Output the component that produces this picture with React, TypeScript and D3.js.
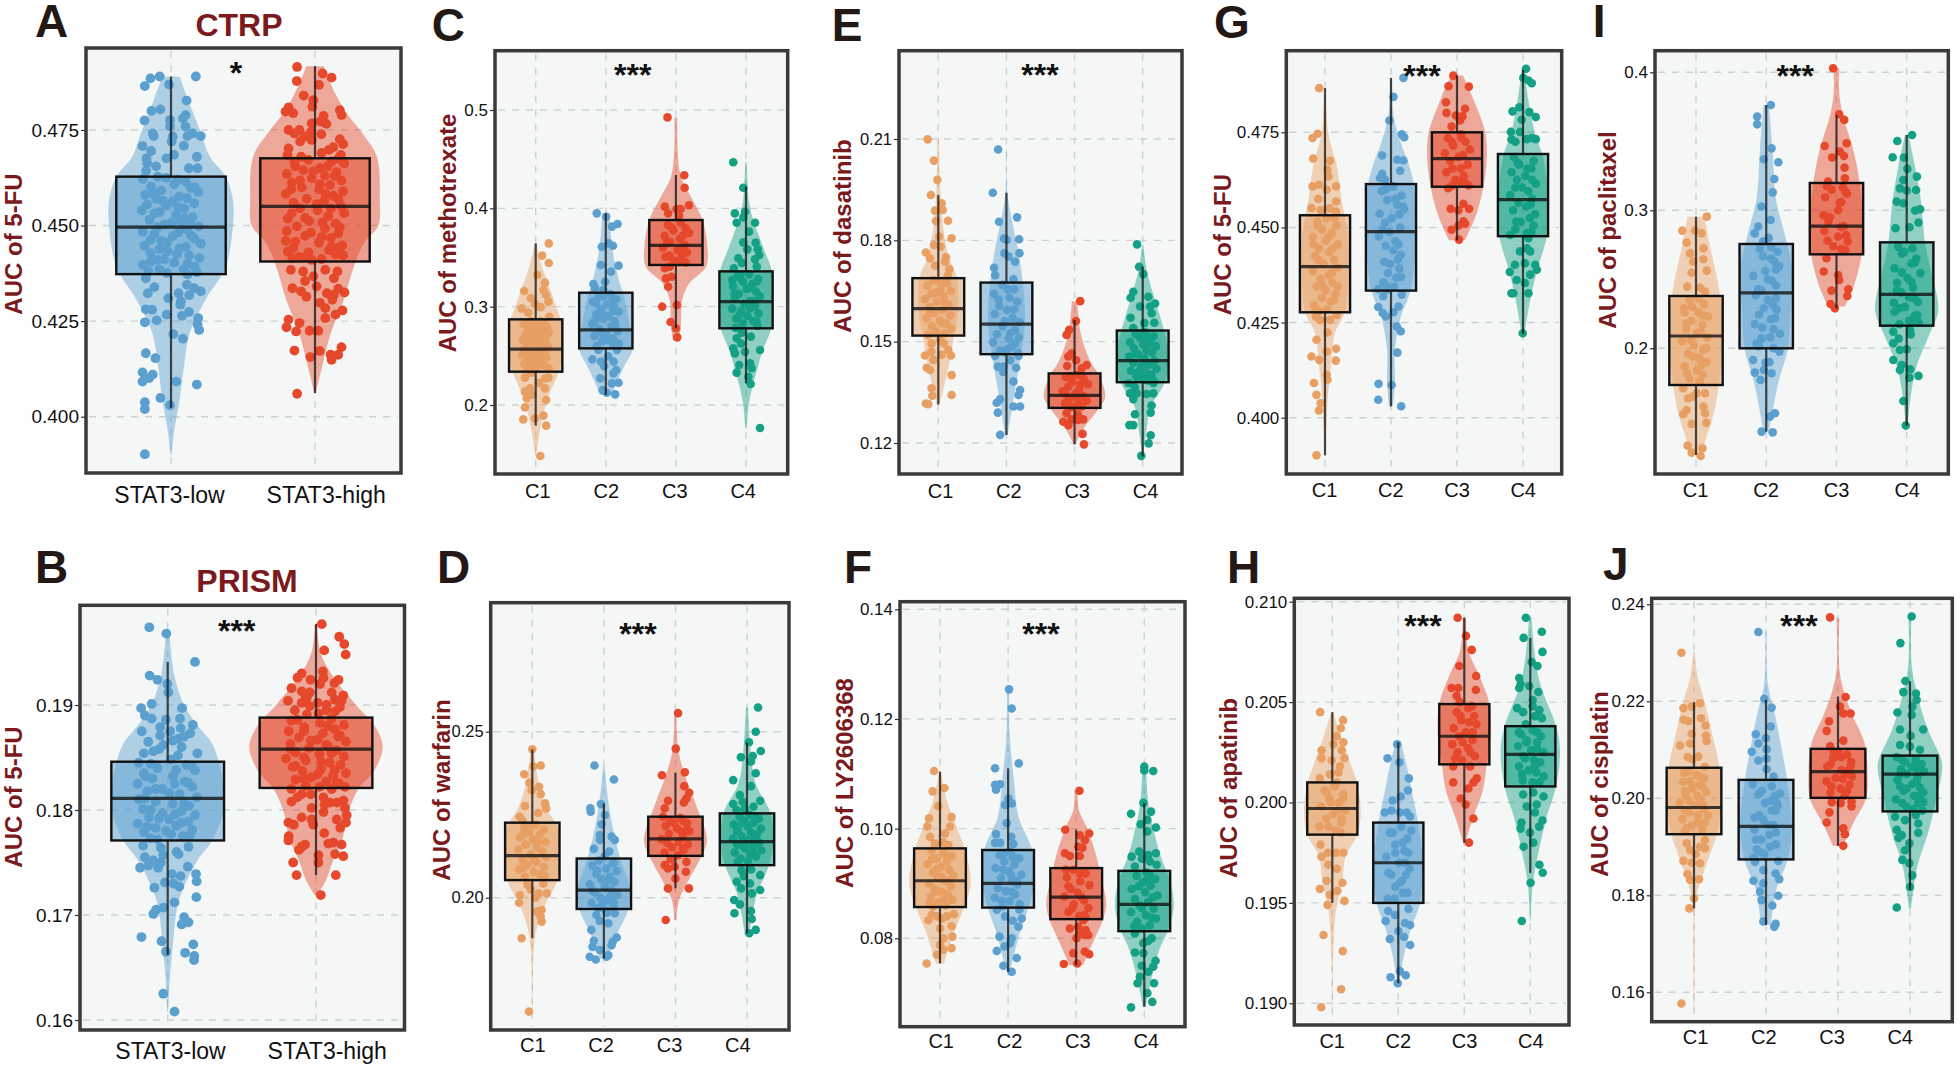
// App.tsx - drug sensitivity violin / box / jitter panels
import React, { useEffect, useRef } from 'react';
import * as d3 from 'd3';

const clusterLabels = ['C1', 'C2', 'C3', 'C4'];
const stat3Labels = ['STAT3-low', 'STAT3-high'];

const clusterColors = ['#E89F63', '#5B9FCF', '#E5482B', '#13A084'];
const stat3Colors = ['#5B9FCF', '#E5482B'];

// box arrays: whisker low, q1, median, q3, whisker high
// violin arrays: value, half width (% of category step) pairs
// point arrays: value, jitter (% of jitter band) pairs

const boxALow = [.4023, .4373, .4496, .4628, .489];
const boxAHigh = [.4062, .4406, .455, .4676, .4917];
const violinALow = [.489, 6, .4828, 12, .4741, 21, .468, 27, .4628, 38, .4567, 43, .45, 43, .4393, 38, .4306, 24, .4219, 13, .4132, 9, .4044, 6, .3957, 2, .3901, .5];
const violinAHigh = [.4917, 6, .4846, 14, .4794, 22, .4741, 33, .468, 43, .4567, 45, .45, 44, .4454, 34, .4393, 27, .4306, 20, .4219, 11, .4132, 5, .4062, .5];
const pointsALow = [.4865, -79, .4885, -62, .489, -34, .489, 75, .4869, -6, .4827, 47, .48, -59, .4804, -32, .4775, -80, .4789, 44, .478, 36, .4776, -3, .476, -3, .4759, 44, .4741, -55, .4734, -52, .4734, 90, .4741, 65, .4734, 50, .4733, 5, .472, 2, .4708, -86, .4709, 39, .4685, 9, .4676, -14, .468, 78, .4676, -74, .4663, -72, .465, 80, .465, 54, .4643, -75, .4628, -40,
  .4622, -85, .4615, 45, .4608, 10, .4602, -60, .4598, 60, .4592, -30, .4588, 82, .458, -78, .4576, 25, .457, -45, .4563, 5, .4558, 70, .4552, -15, .4545, 40, .454, -88, .4535, -35, .4528, 15, .4522, 65, .4515, -65, .451, 30, .4503, -20, .4498, 84, .449, 48, .4484, -85, .4478, -50, .4472, 5, .4466, 70, .446, -30, .4453, 90, .4447, -80, .444, 25, .4433, -10, .4428, -62, .4422, 55, .4415, 86, .441, -40, .4403, 10, .4397, -85, .4392, 72, .4386, 38, .438, -68, .4376, -12, .4372, 50,
  .4362, -76, .4339, -50, .4323, -70, .4323, 23, .4336, 70, .4328, 90, .431, -8, .4293, 28, .4281, -76, .428, -57, .4274, 54, .4267, -13, .4264, 33, .4247, -79, .4252, -43, .4258, 82, .4241, 80, .4227, 85, .4216, 7, .4204, 36, .4166, -76, .4153, -47, .4116, -86, .411, -55, .4101, -66, .4092, -86, .4092, 16, .4084, 78, .4049, -32, .4038, -79, .402, -79, .403, -3, .3902, -79];
const pointsAHigh = [.4915, -54, .4878, -55, .4898, 23, .4887, 50, .4868, 12, .484, -34, .4828, -5, .4811, -8, .4809, -80, .4798, -89, .4794, -66, .4802, 75, .4789, 80, .4787, 26, .4772, 16, .4766, 34, .475, -80, .475, -47, .4767, -10, .4741, -62, .4733, -31, .4739, 19, .4726, 75, .4713, 85, .4724, -10, .4702, -80, .4698, 42, .4685, -83, .468, -42, .4685, 78,
  .4672, -20, .4668, 50, .4662, 88, .4655, -60, .465, 15, .4645, -35, .464, 65, .4635, -85, .463, 30, .4624, -10, .4618, 80, .4612, -70, .4606, 45, .46, -40, .4595, 12, .459, 85, .4583, -88, .4578, 55, .457, -25, .4565, 28, .456, -65, .4552, 78, .4545, -45, .454, 8, .4533, 88, .4525, 40, .4518, -82, .4512, -18, .4505, 62, .4498, -55, .4492, 30, .4486, -85, .448, 70, .4473, -30, .4468, 48, .446, -88, .4455, 12, .4448, 82, .4442, -65, .4436, 42, .443, -20, .4425, 62, .4418, -48, .4412, 20,
  .4415, -68, .4419, -26, .4443, 73, .4384, -73, .438, -36, .4367, -5, .4384, 31, .438, 68, .4362, 57, .4336, -68, .4328, -42, .4341, 5, .4314, -26, .4323, 36, .4325, 89, .4319, 57, .4306, 52, .4284, 31, .4278, 83, .4267, 62, .4258, 31, .4254, -80, .4245, -47, .4234, -86, .4223, -57, .4225, -16, .4225, 10, .4173, -62, .4172, 14, .4182, 80, .4156, -14, .4162, 47, .4162, 70, .4149, 50, .406, -54];

const boxBLow = [.1662, .1771, .1811, .1846, .1941];
const boxBHigh = [.1738, .1821, .1858, .1888, .1977];
const violinBLow = [.1972, 1, .1928, 4.5, .19, 11, .1879, 21, .1863, 30, .1837, 36, .1812, 38, .18, 38, .1771, 30, .1752, 20, .172, 9, .1704, 6, .1672, 3.5, .1641, 1.5, .1608, .3];
const violinBHigh = [.1977, .7, .195, 3, .1928, 11, .19, 27, .1879, 40, .186, 45, .1837, 39, .1821, 29, .1799, 22, .1773, 18, .175, 11, .1734, 7, .1719, 1];
const pointsBLow = [.1974, -54, .1968, -4, .1941, 80, .1928, -53, .1924, -30, .192, -1, .1912, 2, .1901, -47, .1897, -78, .1897, 42, .189, -67, .1887, -47, .1886, -5, .1887, 36, .1881, 74, .1879, -22, .1875, -76, .1878, 38, .1873, 66, .1875, 7, .1871, -22, .1865, -57, .1868, 31, .1862, -13, .186, 41, .1856, -42, .1854, -70, .1854, 87,
  .1848, 10, .1845, -85, .1843, 55, .184, -30, .1838, 80, .1835, -70, .1832, 15, .183, -45, .1827, 50, .1825, -88, .1822, 72, .182, -15, .1818, -60, .1815, 35, .1812, 85, .181, -85, .1808, -35, .1806, 15, .1804, 62, .1801, -72, .1799, 40, .1797, -15, .1795, 80, .1793, -55, .1791, 5, .1789, 60, .1787, -88, .1785, 25, .1783, -35, .1781, 72, .1779, -70, .1777, 10, .1775, 45, .1773, -50,
  .1766, -72, .1765, 61, .176, 26, .1757, -13, .1755, -67, .1752, -42, .1745, -81, .1747, -57, .1745, -28, .1746, 59, .1739, 83, .1739, 12, .1737, 38, .1732, 85, .1731, -8, .173, 17, .1727, 34, .1726, -39, .1717, 84, .1712, 20, .1707, -13, .1705, -34, .1701, -42, .1698, 48, .1693, 61, .1691, 41, .1679, -77, .1675, -18, .1672, 75, .1665, -5, .1664, 51, .1661, 78, .1657, 77, .1625, -13, .1608, 20];
const pointsBHigh = [.1977, 17, .1965, 68, .1958, 83, .1952, 24, .1948, 87, .1932, 20, .193, -42, .1926, -54, .1926, 22, .1924, 66, .1924, -16, .192, 12, .1921, 54, .1916, -72, .1913, -42, .1912, -18, .1912, 46, .1909, 80, .1907, -27, .1904, -82, .1904, 75, .1902, -42, .1899, -18, .19, 31, .1895, -62, .1894, 56, .1892, 7, .1891, -27,
  .1887, 45, .1885, -72, .1883, 12, .1881, 82, .1879, -35, .1877, 55, .1875, -80, .1873, 20, .1871, 70, .1869, -50, .1867, 5, .1865, 88, .1863, -75, .1861, 35, .1859, -20, .1857, 60, .1855, -60, .1853, 10, .1851, 82, .1849, -88, .1847, -30, .1845, 40, .1843, 72, .1841, -68, .1839, 15, .1837, -40, .1835, 88, .1833, 50, .1831, -15, .1829, -60, .1827, 30, .1825, 68, .1823, -30,
  .182, -72, .1815, -42, .182, 46, .1812, 22, .1808, -72, .1809, 80, .1807, 41, .1807, 61, .1802, -13, .1802, 85, .1798, 22, .1795, 90, .1793, -42, .1791, -13, .1791, 61, .1788, 88, .1788, -81, .1786, -65, .1783, 71, .1786, -8, .1778, 24, .1775, -80, .1771, -81, .1768, 36, .1769, 51, .1767, 75, .1767, -32, .1765, -42, .1762, -50, .1758, 56, .1756, 80, .1757, 7, .175, 7, .175, -67, .1738, -57, .1738, 58, .1719, 14];

const boxC1 = [.179, .2339, .2569, .2871, .3644];
const boxC2 = [.2102, .2576, .2763, .3142, .3949];
const boxC3 = [.278, .3424, .3624, .3881, .4339];
const boxC4 = [.222, .278, .3051, .3359, .422];
const violinC1 = [.3644, 1, .3407, 9, .3169, 21, .3, 29, .2864, 36, .2559, 38, .2339, 33, .2068, 17, .178, 7, .1576, 2.5, .1481, .5];
const violinC2 = [.3949, 5, .3746, 7, .3475, 12, .3237, 20, .3068, 27, .2729, 36, .2559, 38, .239, 26, .222, 15, .2102, 9];
const violinC3 = [.4925, 2, .4593, 2.5, .4322, 7, .4085, 24, .3881, 38, .361, 45, .3407, 43, .3237, 19, .3068, 9, .2797, 7, .2661, 4];
const violinC4 = [.4468, 1, .4085, 4, .3915, 9, .3576, 26, .3359, 37, .3068, 38, .278, 36, .2559, 24, .239, 17, .2051, 5, .1763, 1];
const pointsC1 = [.3644, 81, .3519, 40, .3444, 81, .3322, 10, .3244, 58, .3159, -71, .3169, 48, .3119, 65, .3051, 79, .3027, -4, .2983, -87, .2939, -46, .2898, 85,
  .2855, -30, .284, 45, .2825, -75, .281, 15, .2795, 70, .278, -45, .2765, -10, .275, 40, .2735, 82, .272, -62, .2705, 20, .269, -25, .2675, 60, .266, -80, .2645, 5, .263, 35, .2615, -50, .26, 78, .2585, -15, .257, -70, .2555, 25, .254, 55, .2525, -35, .251, -85, .2495, 10, .248, 68, .2465, -55, .245, 30, .2435, -20, .242, -72, .2405, 48, .239, 5, .2375, 80, .236, -40,
  .2278, -67, .2271, 58, .2278, 79, .2169, -35, .2136, -67, .2169, 58, .2068, -56, .2051, 65, .1976, -67, .1864, -4, .1854, -77, .1892, 48, .179, 65, .1481, 29];
const pointsC2 = [.3949, -56, .3915, 2, .3841, 73, .3814, 38, .361, -25, .362, 44, .3644, 17, .3417, 79, .3424, -31, .3356, 33, .3231, -77, .3254, -4, .3186, -67, .3169, -15,
  .3125, 30, .31, -45, .3075, 65, .305, -80, .3025, 10, .3, 50, .2975, -30, .295, 80, .2925, -60, .29, 20, .2875, -15, .285, 55, .2825, -85, .28, 35, .2775, -40, .275, 72, .2725, 5, .27, -70, .2675, 45, .265, -20, .2625, 80, .26, -55,
  .2464, -83, .2441, -29, .2441, 48, .2356, 65, .2271, -35, .2322, 48, .2227, 79, .222, 38, .2153, -19, .2108, 58, .2125, 6, .2559, -46, .2559, 69];
const pointsC3 = [.4925, -52, .4336, 52, .421, 54, .4031, 81, .4017, -69, .399, 4, .3993, 29, .3949, -48, .3, -85, .3017, 6, .2844, -33, .278, 0, .2688, 8, .3203, -48, .3288, -62, .3305, -27, .339, -69, .3407, -38,
  .3855, 30, .383, -50, .38, 60, .3775, -15, .375, 82, .372, -70, .369, 25, .366, -35, .363, 55, .36, -80, .3575, 10, .355, 70, .352, -40, .3495, 35, .347, -15, .345, 60];
const pointsC4 = [.4468, -79, .421, -17, .3949, -69, .3966, -6, .3908, -17, .3854, 56, .3854, -58, .3763, 19, .3654, -17, .3651, 60, .3583, 73, .3583, 8, .3525, 83, .3492, -48, .3481, 56, .3407, 67, .339, -75,
  .333, 20, .3305, -55, .328, 75, .3255, -20, .323, 40, .3205, -80, .318, 5, .3155, 62, .313, -45, .3105, 85, .308, -70, .3055, 25, .303, -10, .3005, 55, .298, -85, .2955, -30, .293, 78, .2905, 10, .288, -60, .2855, 45, .283, -20, .2805, 70,
  .2736, -27, .2678, -58, .2576, -79, .2525, -69, .2542, -6, .2559, 87, .2407, -42, .2424, 25, .2373, 35, .2329, -58, .2288, 15, .2214, 29, .1766, 87];

const boxD1 = [.1878, .2053, .2127, .2226, .2447];
const boxD2 = [.1817, .1966, .2023, .2118, .2284];
const boxD3 = [.2028, .2126, .2177, .2244, .2377];
const boxD4 = [.1893, .2098, .2169, .2254, .2467];
const violinD1 = [.2455, 2, .2344, 9, .2264, 21, .2214, 35, .2134, 37, .2053, 35, .1983, 19, .1913, 7, .1842, 2, .1657, .5];
const violinD2 = [.2395, 1, .2294, 6, .2194, 14, .2118, 23, .2023, 37, .1963, 34, .1893, 19, .1817, 5];
const violinD3 = [.2555, 1.5, .2445, 4, .2364, 14, .2284, 28, .2174, 44, .2124, 36, .2043, 16, .1993, 5, .1933, 1.5];
const violinD4 = [.2573, 1.5, .2445, 5, .2344, 12, .2254, 33, .2164, 37, .2093, 30, .2013, 14, .1943, 7, .1888, 3];
const pointsD1 = [.2447, 0, .2398, 51, .2395, 6, .2372, -49, .2346, -18, .2334, 41, .2324, -4, .2312, 51, .2284, 78, .2276, -45, .2269, 84, .2244, -76,
  .222, 20, .2212, -50, .2205, 70, .2198, -20, .219, 45, .2182, -75, .2175, 5, .2168, 80, .216, -40, .2152, 30, .2145, -85, .2138, 60, .213, -10, .2122, 85, .2115, -60, .2108, 25, .21, -30, .2092, 70, .2085, -80, .2078, 10, .207, 50, .2062, -45,
  .2043, 67, .2008, -76, .2013, 37, .1985, -80, .1963, 57, .1958, 27, .1943, 51, .1928, 57, .1878, -65, .1657, -20, .2013, 88];
const pointsD2 = [.2398, -57, .2356, 61, .2282, -18, .2269, -82, .2259, -80, .2249, 6, .2221, -14, .2184, 47, .2174, 67, .2189, -24, .2174, -24, .2147, -61, .2139, 33,
  .2112, -30, .2104, 55, .2096, -70, .2088, 15, .208, 78, .2072, -45, .2064, 35, .2056, -15, .2048, 65, .204, -85, .2032, 5, .2024, 45, .2016, -55, .2008, 80, .2, -20, .1992, 25, .1984, -75, .1976, 60, .1968, -35, .1962, 10,
  .1948, -45, .1923, 27, .1903, -76, .188, 78, .187, -61, .1867, 53, .1852, -69, .1857, 47, .1842, -24, .1827, 27, .1822, -86, .1814, -49, .1822, 16, .1953, 67];
const pointsD3 = [.2556, 16, .2449, 2, .2378, 57, .2369, -82, .2336, 53, .2316, 84, .2299, 67, .2292, -45, .2287, 51, .2269, -65, .2244, -76,
  .224, 30, .2232, -30, .2224, 70, .2216, -60, .2208, 10, .22, 85, .2192, -40, .2184, 45, .2176, -85, .2168, 20, .216, 75, .2152, -20, .2144, 50, .2136, -65,
  .2098, -65, .2108, 67, .2093, -4, .2088, -45, .2078, 63, .2058, 0, .2028, -45, .2028, 82, .1933, -59];
const pointsD4 = [.2573, 67, .25, 53, .2468, 12, .2442, 84, .2423, -37, .2427, 35, .241, 24, .2375, 53, .2354, -84, .2336, 24, .2309, -43, .2289, -27, .2292, 80, .2282, -84, .2264, -63, .2274, 39,
  .225, 15, .2244, -45, .2238, 72, .2232, -15, .2226, 40, .222, -80, .2214, 5, .2208, 85, .2202, -55, .2196, 25, .219, 60, .2184, -30, .2178, -85, .2172, 10, .2166, 75, .216, -60, .2154, 40, .2148, -10, .2142, 88, .2136, -75, .213, 20, .2124, 55, .2118, -40, .2112, 5,
  .2083, -33, .2068, 80, .2048, -63, .2043, 18, .2023, 80, .2013, 29, .1993, -78, .198, -43, .196, 24, .1953, -76, .1936, 29, .1903, 53, .1893, 14];

const boxE1 = [.1314, .1518, .1598, .1688, .1934];
const boxE2 = [.1224, .1463, .1552, .1675, .1941];
const boxE3 = [.1196, .1304, .1341, .1406, .1564];
const boxE4 = [.116, .138, .1444, .1533, .1722];
const violinE1 = [.21, 1, .1969, 2.5, .184, 7, .1752, 15, .1692, 27, .1594, 29, .1505, 22, .1426, 15, .1314, 2];
const violinE2 = [.207, .5, .1939, 1.5, .184, 10, .1771, 17, .1675, 24, .1554, 27, .1446, 20, .1327, 10, .1224, 2];
const violinE3 = [.162, 4, .1525, 9, .1446, 22, .1396, 37, .1337, 45, .1298, 34, .1248, 15, .1196, 1];
const violinE4 = [.1786, 1, .1722, 5, .1643, 15, .1564, 27, .1485, 37, .1436, 39, .1377, 32, .1308, 12, .1229, 5, .116, .5];
const pointsE1 = [.2099, -68, .2036, -28, .1979, -6, .1934, -47, .191, 21, .189, 28, .1888, -21, .1857, -15, .1858, 62, .1806, 85, .1811, 6, .1786, -28, .1781, 15, .1764, -79, .1747, -53, .175, 49, .1714, 70, .1737, 43,
  .1682, -30, .1674, 55, .1666, -70, .1658, 15, .165, 80, .1642, -45, .1634, 35, .1626, -85, .1618, -10, .161, 65, .1602, -55, .1594, 25, .1586, -25, .1578, 75, .157, -75, .1562, 10, .1554, 50, .1546, -40, .1538, 85, .153, -15, .1524, 40, .152, -65,
  .1505, 11, .1495, -43, .1475, 64, .1459, -85, .1459, 81, .1461, 21, .1446, -32, .1423, -74, .1416, -53, .1401, 85, .1362, -43, .134, -38, .1342, 85, .1317, -79, .1315, -64];
const pointsE2 = [.2069, -53, .1941, -87, .1855, -47, .1868, 68, .1803, 81, .1805, -15, .1801, 2, .1762, 83, .1762, -13, .1752, 13, .1737, 55, .1719, -79, .1697, -72,
  .1668, -25, .1655, 50, .1642, -80, .163, 20, .1618, 70, .1606, -45, .1594, 5, .1582, -75, .157, 40, .1558, 85, .1546, -25, .1534, 55, .1522, -60, .151, 15, .1498, -85, .1486, 35, .1474, -40, .1466, 75, .1478, 5, .1512, 80,
  .1458, -72, .1458, 77, .1426, -55, .1426, -19, .1423, 62, .1382, 45, .1357, 87, .1342, 77, .133, -40, .1319, -62, .1308, 45, .1308, 87, .129, -55, .1224, -40];
const pointsE3 = [.162, 36, .1561, 9, .1535, -34, .152, -51, .1456, -40, .1465, -19, .1428, -47, .1431, 77, .1421, 45,
  .1402, 20, .1395, -55, .1388, 60, .1381, -15, .1374, 85, .1367, -40, .136, 30, .1353, -75, .1346, 5, .1339, 55, .1332, -30, .1325, 78, .1318, -60, .1311, 15, .1306, -20, .1308, 45,
  .1288, -51, .127, 55, .127, -19, .1263, -72, .1253, -40, .1227, 51, .1196, 60, .1268, 23];
const pointsE4 = [.1788, -36, .1722, -23, .17, 4, .1648, -60, .163, -77, .1633, 36, .1613, 79, .1604, -17, .1604, 47, .1584, 57, .1571, -77, .1556, 74, .154, -60,
  .1528, 15, .1522, -45, .1516, 70, .151, -15, .1504, 40, .1498, -80, .1492, 5, .1486, 85, .148, -55, .1474, 25, .1468, 60, .1462, -30, .1456, -85, .145, 10, .1444, 75, .1438, -60, .1432, 40, .1426, -10, .142, 88, .1414, -75, .1408, 20, .1402, 55, .1396, -40, .139, 5, .1384, 70,
  .1347, 68, .1347, -81, .1347, -38, .133, -60, .1311, 57, .129, 51, .1285, -49, .1253, -60, .1253, -85, .1223, 51, .1199, 38, .1162, -9, .1377, 68, .1377, -91];

const boxF1 = [.0754, .0857, .0905, .0964, .1104];
const boxF2 = [.0739, .0856, .09, .0961, .111];
const boxF3 = [.0751, .0835, .0875, .0928, .0998];
const boxF4 = [.0675, .0813, .0862, .0923, .1046];
const violinF1 = [.1104, 1, .1052, 10, .1004, 24, .0961, 37, .09, 45, .0852, 34, .0809, 20, .0754, 6];
const violinF2 = [.1253, 1.5, .1168, 2.5, .1083, 9, .1022, 15, .0961, 35, .09, 38, .0856, 30, .0809, 17, .0739, 2.5];
const violinF3 = [.1071, 2.5, .1034, 4, .1004, 15, .0961, 27, .09, 39, .0861, 44, .0833, 39, .0791, 24, .0751, 10];
const violinF4 = [.1116, 2.5, .1046, 6, .0991, 15, .0949, 24, .09, 39, .0855, 43, .0813, 34, .0779, 22, .0718, 9, .0675, 2];
const pointsF1 = [.1105, -38, .1074, 28, .1068, -47, .1041, -11, .1019, -70, .1021, 74, .1004, 64, .1004, -81, .0985, -64, .0991, 32, .0973, -32, .097, 53,
  .096, -55, .0955, 20, .095, 75, .0945, -25, .094, 45, .0935, -80, .093, 5, .0925, 60, .092, -45, .0915, 85, .091, -15, .0905, 30, .09, -70, .0895, 70, .089, -35, .0885, 10, .088, 50, .0875, -60, .087, 80, .0865, -10, .086, 35, .0858, -45,
  .0844, 89, .0843, -53, .084, 43, .0833, -74, .0822, 74, .0818, 0, .08, 21, .0803, 79, .0788, 0, .0782, 74, .0779, 21, .077, -21, .0754, -85, .0836, 11];
const pointsF2 = [.1254, 6, .1219, 23, .1119, 68, .111, -83, .108, -83, .1081, -51, .1071, -77, .1055, 2, .1043, -19, .1046, 23, .101, -9, .099, -77, .0974, -83, .0974, -51, .0972, 34,
  .0958, 15, .0952, -55, .0946, 70, .094, -25, .0934, 40, .0928, -80, .0922, 5, .0916, 85, .091, -45, .0904, 25, .0898, 60, .0892, -65, .0886, -15, .088, 45, .0874, -85, .0868, 10, .0862, 75, .0858, -35,
  .0852, -72, .0852, 72, .084, -19, .0836, 87, .0821, 66, .0803, -55, .08, 23, .0791, 13, .0785, -23, .0777, -72, .0764, 55, .075, -30, .0739, 23];
const pointsF3 = [.1069, 21, .0998, -70, .0991, 83, .0988, 23, .0979, 55, .0955, -72, .095, -40, .095, 23, .0967, 13,
  .0925, -20, .0918, 60, .0911, -60, .0904, 25, .0897, 85, .089, -35, .0883, 10, .0876, -75, .0869, 50, .0862, -15, .0855, 78, .0848, -50, .0841, 20, .0838, 60,
  .0833, 45, .0818, -40, .0821, 13, .0809, 23, .0806, 77, .0806, 55, .08, 2, .0776, 55, .0771, 83, .0773, -19, .0753, -79, .0754, 6];
const pointsF4 = [.1113, 0, .1106, 0, .1105, 57, .1047, -6, .1031, 43, .1027, -85, .1016, 19, .1008, -23, .1002, 74, .0995, 19, .0958, -32, .0955, 74, .0949, -81, .0952, 26, .0934, 79, .0931, -60, .094, 36,
  .092, 15, .0914, -50, .0908, 70, .0902, -10, .0896, 40, .089, -80, .0884, 5, .0878, 85, .0872, -60, .0866, 25, .086, -30, .0854, 60, .0848, -85, .0842, 10, .0836, 75, .083, -45, .0824, 35, .0818, -15,
  .0809, -60, .08, 47, .0791, -6, .0774, -60, .0773, -6, .0759, 72, .075, -17, .0748, 57, .0739, 26, .073, -28, .0718, -43, .0718, 62, .07, 19, .0684, 51, .0674, -85];

const boxG1 = [.3901, .4277, .4397, .4532, .4866];
const boxG2 = [.403, .4334, .4489, .4614, .4893];
const boxG3 = [.4466, .4607, .4681, .475, .4899];
const boxG4 = [.422, .4477, .4573, .4693, .4914];
const violinG1 = [.4866, 1, .4748, 5, .466, 18, .4573, 25, .4485, 34, .4397, 35, .4277, 30, .4222, 15, .4135, 9, .4047, 4, .3901, .5];
const violinG2 = [.4893, 1.5, .4792, 4, .4722, 15, .466, 28, .4608, 35, .4485, 38, .4336, 30, .4266, 15, .4178, 6, .4091, 6, .403, 3];
const violinG3 = [.4899, 9, .4836, 25, .4748, 43, .4678, 45, .4608, 40, .4538, 30, .4466, 12];
const violinG4 = [.4919, 1.5, .4836, 8, .4748, 18, .4687, 30, .4573, 38, .4477, 36, .4397, 23, .4327, 13, .422, 2];
const pointsG1 = [.4866, -38, .4746, -49, .4735, -82, .4681, -78, .4675, 33, .4652, 16, .4634, 22, .4608, -82, .4612, -38, .4608, 73, .4599, 11, .4575, -44, .4568, 73, .4551, -89, .4546, -29, .4542, 73,
  .4525, 10, .4515, -50, .4505, 75, .4495, -20, .4485, 45, .4475, -80, .4465, 5, .4455, 85, .4445, -40, .4435, 30, .4425, -65, .4415, 60, .4405, -10, .4395, 80, .4385, -80, .4375, 25, .4365, -30, .4355, 50, .4345, -55, .4335, 5, .4325, 70, .4315, -20, .4305, 40, .4295, -70, .4285, 15, .428, -40, .4345, 85, .4455, -75,
  .4257, -33, .4266, -60, .427, 78, .4257, 33, .4224, 16, .4205, -56, .4181, 73, .4174, 11, .4161, -89, .4152, -38, .415, 71, .4113, 11, .41, 16, .4091, -73, .406, -56, .4038, -29, .4019, -40, .3901, -56];
const pointsG2 = [.4893, 82, .4843, 16, .4781, -11, .4745, 71, .4737, 87, .4689, -58, .4678, 42, .4676, 82, .4649, 60, .4641, -58, .463, -73, .4625, -40,
  .4608, 15, .4596, -60, .4584, 70, .4572, -25, .456, 40, .4548, 85, .4536, -75, .4524, 5, .4512, -40, .45, 60, .4488, -10, .4476, -80, .4464, 30, .4452, -35, .444, 15, .4428, 65, .4416, 45, .4404, -5, .4392, 55, .438, -20, .4368, 35, .4356, -50, .4344, 20, .4338, -85, .4555, 80,
  .4319, -51, .4323, 71, .4291, -84, .4292, 49, .4266, -33, .4277, 16, .424, 38, .4227, 64, .4171, 42, .4089, -82, .4086, 4, .4047, -84, .403, 67, .4336, -29];
const pointsG3 = [.4899, -24, .4871, -56, .487, 78, .4829, -73, .4812, 53, .4801, -69, .4792, 36, .4794, -7, .4765, -36, .4781, 20,
  .4745, 25, .4735, -60, .4725, 55, .4715, -25, .4705, 85, .4695, -80, .4685, 10, .4675, -45, .4665, 70, .4655, 25, .4645, -70, .4635, 45, .4625, -10, .4615, 60, .461, -30,
  .4562, 42, .4549, -42, .4545, 9, .4549, 80, .4516, 42, .4494, -36, .451, 53, .4468, 13, .4603, -58, .461, 76];
const pointsG4 = [.4917, 20, .4893, 2, .4886, 36, .4879, 58, .4805, -69, .4816, -24, .4803, 42, .479, 84, .4783, -9, .4751, -80, .4751, -20, .4731, -76, .4732, 24, .4732, 84, .4735, 58,
  .4685, -60, .4675, 70, .4665, -25, .4655, 55, .4645, -75, .4635, 15, .4625, -40, .4615, 85, .4605, -5, .4595, 35, .4585, -85, .4575, 60, .4565, -30, .4555, 20, .4545, -65, .4535, 80, .4525, 45, .4515, -15, .4505, 70, .4495, -50, .4485, 25, .448, -85,
  .4472, 36, .4437, -20, .4437, 47, .4402, -53, .4406, 13, .4402, 80, .4383, -87, .4389, 91, .4362, -42, .4376, 47, .4354, 13, .4327, -64, .4327, 36, .4222, -2, .4327, -76];

const boxH1 = [.195, .1984, .1997, .201, .2045];
const boxH2 = [.191, .195, .197, .199, .203];
const boxH3 = [.198, .2019, .2033, .2049, .2092];
const boxH4 = [.1965, .2008, .2024, .2038, .2082];
const violinH1 = [.2045, 1.5, .2033, 13, .2019, 28, .2009, 38, .1995, 43, .1984, 38, .1973, 20, .196, 15, .1947, 6, .1926, 1.5, .1899, .5];
const violinH2 = [.203, 4, .2018, 13, .2006, 20, .199, 30, .197, 37, .195, 33, .1938, 20, .1923, 8, .191, 1.5];
const violinH3 = [.2092, 2.5, .2076, 6, .2063, 23, .2049, 38, .2033, 40, .2019, 34, .2006, 28, .1993, 14, .198, 1.5];
const violinH4 = [.2092, 2, .2076, 6, .2059, 15, .2038, 39, .2026, 45, .2008, 39, .1993, 25, .1976, 13, .196, 4, .1941, .5];
const pointsH1 = [.2045, -80, .2041, 71, .2037, 56, .2033, 29, .203, 73, .2029, 7, .2026, -71, .2026, 62, .2022, 80, .2022, -71, .2021, -4, .2012, -82, .2014, -16, .2015, 40,
  .2008, 15, .2006, -50, .2004, 70, .2002, -20, .2, 45, .1998, -75, .1996, 85, .1994, 5, .1992, -40, .199, 60, .1988, -85, .1986, 25,
  .1979, -78, .1973, -71, .1975, 24, .1975, 73, .1969, -27, .1967, 29, .1961, -38, .196, 67, .1957, -82, .1956, 33, .1954, -16, .1951, 80, .1949, -31, .1934, -58, .1926, 69, .1907, 58, .1898, -73];
const pointsH2 = [.2029, -7, .2022, -71, .202, 7, .2012, 69, .2006, 64, .2003, 16, .2001, -38, .1995, -89, .1996, -44, .1995, 56, .1993, 78,
  .1988, 20, .1985, -55, .1982, 60, .1979, -20, .1976, 40, .1973, -80, .197, 5, .1967, 75, .1964, -45, .1961, 25, .1958, -20, .1955, 60, .1952, -70, .1986, 85, .1964, 50,
  .1946, -67, .1947, 67, .1941, -84, .1944, -22, .1939, 78, .194, 44, .1936, 0, .1932, -56, .1933, 38, .1929, 78, .1916, 11, .1913, -51, .1914, 49, .191, -4];
const pointsH3 = [.2092, -44, .2083, 11, .2076, 49, .2068, -33, .2063, 78, .2057, -84, .2057, -40, .2056, 76, .2053, -51,
  .2047, 25, .2045, -50, .2043, 65, .2041, -20, .2039, 80, .2037, -70, .2035, 10, .2033, -35, .2031, 55, .2029, -80, .2027, 25, .2025, -45, .2023, 70, .2021, -15,
  .2018, -73, .2018, 38, .201, -73, .2012, 82, .201, 60, .2007, 27, .2002, -24, .1999, 9, .1992, 60, .198, 31];
const pointsH4 = [.2092, -29, .2085, 76, .2082, -44, .2075, 80, .207, 9, .2068, 47, .2062, -73, .2059, -64, .2058, -7, .2057, -73, .2055, 53, .2051, 16, .2047, -87, .2045, -47, .2046, 60, .2043, 31, .2042, 76, .2039, -29,
  .2036, 15, .2034, -60, .2033, 70, .2031, -25, .203, 45, .2028, -80, .2026, 5, .2025, 85, .2023, -45, .2021, 25, .202, 65, .2018, -75, .2016, -10, .2015, 40, .2013, 88, .2011, -50, .201, 15,
  .2004, -47, .2003, 87, .1998, -24, .1999, 42, .1995, 31, .1991, 80, .199, -58, .1988, 58, .1987, -64, .1985, -2, .198, 20, .1978, -44, .1969, 60, .1965, 82, .196, 2, .1941, -56];

const boxI1 = [.1227, .1734, .2089, .2379, .2954];
const boxI2 = [.1396, .2, .2401, .2756, .3763];
const boxI3 = [.229, .2681, .2886, .3198, .3691];
const boxI4 = [.144, .2164, .2391, .2768, .3546];
const violinI1 = [.2954, 12, .2713, 21, .2423, 33, .2109, 38, .1746, 33, .1505, 24, .1312, 12, .1227, 7];
const violinI2 = [.3763, 4, .3437, 9, .3075, 14, .2833, 26, .2592, 36, .223, 34, .2, 31, .1746, 17, .1396, 4];
const violinI3 = [.4029, 4, .3848, 4, .3691, 9, .3437, 24, .3198, 33, .2882, 38, .2681, 36, .2471, 26, .2302, 12];
const violinI4 = [.3546, 2.5, .3316, 12, .3075, 20, .2768, 26, .2592, 33, .2278, 45, .2109, 33, .1867, 14, .1626, 5, .144, 1.5];
const pointsI1 = [.2954, 67, .2853, -85, .2853, -6, .2833, 35, .2766, -58, .2725, 46, .2688, -37, .2645, 46, .2628, -17, .2563, 67, .2548, -27, .2447, -54, .2411, 56,
  .235, -40, .232, 50, .229, -75, .226, 15, .223, 75, .22, -30, .217, 40, .214, -60, .211, 5, .208, 70, .205, -85, .202, -15, .199, 45, .196, -50, .193, 20, .19, 65, .187, -70, .184, 5, .181, 40, .178, -40,
  .171, -79, .1674, 56, .1638, -48, .1674, 4, .1577, 46, .1553, -58, .1529, 56, .1522, -79, .1452, -27, .1461, 63, .1295, -52, .1275, 40, .1244, -27, .122, 29];
const pointsI2 = [.3763, 29, .3679, -56, .3623, -56, .3449, 33, .337, -15, .3348, 75, .3227, 50, .313, 40, .3027, -29, .293, 27, .2882, -50, .2833, -71, .2773, -19,
  .2735, 30, .27, 70, .2665, -20, .263, 50, .2595, 80, .256, -5, .2525, -80, .249, 35, .2455, 60, .242, -30, .2385, -65, .235, 10, .2315, 40, .228, 65, .2245, -45, .221, 30, .2175, -70, .214, 45, .2105, 85, .207, -30, .2035, -60, .2015, -45,
  .1915, -81, .1896, -4, .1976, 81, .1843, -15, .1824, -71, .1819, 33, .1771, -35, .1529, 54, .1505, 23, .1396, -29, .1391, 40];
const pointsI3 = [.4029, -21, .3696, 17, .3655, 48, .3466, -73, .3486, 63, .3425, 21, .3394, 46, .3382, -27, .3309, 50, .3232, 52, .3208, -52, .2556, -79, .2531, 10, .2495, 17, .2418, -31, .2428, 73, .2379, 67, .2321, -37, .229, -10, .2652, -62,
  .3175, -60, .3165, 40, .3135, 55, .3095, -70, .3055, 20, .3, 10, .2965, -80, .292, -50, .2885, 45, .285, -75, .281, 10, .2775, 70, .274, -20, .271, 55];
const pointsI4 = [.3546, 33, .3502, -58, .3384, -87, .3382, -17, .33, 4, .3244, 63, .322, -21, .3159, -42, .3147, 58, .3143, 0, .3063, -62, .3051, -21, .2998, 52, .3007, 83, .2911, 73, .287, -69, .2877, 17, .2737, -52,
  .2725, 35, .2685, -30, .265, 60, .2615, 30, .258, -75, .2545, 85, .251, 5, .2475, -60, .244, 40, .2405, -35, .237, 15, .2335, 70, .23, -10, .2265, -75, .2235, 50, .22, 15, .2175, -45, .2185, 75,
  .2121, -83, .2133, 21, .2036, -83, .1993, 0, .1988, -42, .1915, -83, .1879, -31, .1848, 21, .1843, -42, .18, 73, .1787, 17, .1618, -21, .144, -6];

const boxJ1 = [.1773, .1926, .1981, .2063, .2198];
const boxJ2 = [.1739, .1874, .1942, .2038, .2203];
const boxJ3 = [.1902, .2001, .2055, .2102, .221];
const boxJ4 = [.1811, .1973, .205, .2088, .2241];
const violinJ1 = [.2302, 1, .2251, 5, .2203, 14, .2134, 25, .2065, 35, .1983, 37, .1928, 32, .1859, 16, .179, 2.5, .1687, 1, .1564, .5];
const violinJ2 = [.2344, 1, .2237, 2.5, .2168, 13, .21, 22, .2031, 30, .1942, 36, .1874, 30, .1811, 14, .1739, 7];
const violinJ3 = [.2371, 2, .2265, 2, .2216, 9, .2168, 21, .2113, 37, .2052, 41, .2, 39, .1948, 21, .1902, 7];
const violinJ4 = [.2371, 2, .2271, 2.5, .2203, 12, .2141, 25, .2086, 42, .2065, 45, .199, 35, .1928, 25, .1859, 10, .1773, 1.5];
const pointsJ1 = [.23, -76, .2196, 36, .2186, -64, .2189, -14, .2165, 42, .2162, -64, .2159, -34, .215, 70, .2133, -14, .2129, 72, .2118, 76, .2109, -84, .2113, -24, .2085, -38, .2086, 26, .2065, 66,
  .2055, -35, .2048, 15, .2041, 60, .2034, -65, .2027, 30, .202, -10, .2013, 75, .2006, -50, .1999, 40, .1992, -85, .1985, 10, .1978, 60, .1971, -30, .1964, 85, .1957, -70, .195, 20, .1943, -15, .1936, 50, .1932, -55,
  .1907, -44, .1914, 66, .19, 36, .1893, -24, .1897, 66, .1871, -64, .1867, -14, .1866, 36, .1844, -40, .1832, -24, .1833, 30, .1794, 0, .1773, -28, .1577, -76];
const pointsJ2 = [.2343, -46, .2205, -10, .2187, 34, .2148, 28, .2132, -62, .2124, 0, .2113, -46, .2096, -86, .2101, 4, .2078, -46, .2082, 4, .206, 4, .2029, -80,
  .2015, -25, .2005, 55, .1995, 30, .1985, 70, .1975, 60, .1965, -40, .1955, -15, .1945, 45, .1935, -70, .1925, 20, .1915, -30, .1905, 60, .1895, -55, .1885, -10, .1878, -75, .201, 85, .199, -5,
  .1869, -66, .1871, 74, .1852, -16, .1845, 58, .1833, 80, .183, -76, .1825, -16, .1808, -36, .1799, 74, .179, -26, .1779, 38, .1746, -16, .1741, 58, .1735, 50];
const pointsJ3 = [.2373, -48, .2209, 46, .2189, 12, .2175, 76, .2175, 32, .2159, -54, .2139, -68, .2107, -48, .2119, 32, .2096, 2,
  .209, 55, .2082, -30, .2075, 80, .2065, -65, .2058, 20, .205, 50, .2042, -15, .2035, -70, .2028, 70, .202, 15, .2012, -45, .2005, 40, .2085, 20, .2045, 85,
  .1992, -38, .1983, 82, .199, 16, .1993, 82, .1971, -52, .195, -68, .1938, 32, .1926, 42, .1902, 32];
const pointsJ4 = [.2375, 10, .232, -58, .2242, -28, .2216, 36, .2219, -40, .2203, 40, .2189, 14, .2177, -76, .2172, 10, .2142, 80, .2142, -60, .2129, 4, .211, -60, .21, 60, .2107, 0,
  .2085, -80, .208, 35, .2075, -30, .207, 70, .2065, 10, .206, -55, .2055, 85, .205, -20, .2045, 45, .2038, -75, .203, 15, .2022, 60, .2015, -40, .2005, 25, .1998, -85, .199, 50, .1982, -20, .1975, 75, .2012, 80, .2025, -60,
  .1962, -90, .1955, -30, .1948, 50, .1935, -80, .1929, 50, .1924, -50, .1918, -70, .1907, -4, .1893, -30, .1873, -46, .1866, -4, .1841, 14, .1817, 0, .1775, -80];

// further points in the crowded middle of each cloud, same pairs as above
const moreA = [
  [.462, 20, .46, 72, .4585, -55, .4572, 48, .4555, -72, .4548, 22, .4532, -50, .452, 42, .4508, 2, .4495, -42, .4482, 22, .4475, 60, .4462, -62, .4445, 45, .4438, -35, .4425, 18, .4412, -20, .44, 50, .4385, -35, .4378, 78, .4625, -15, .4565, -25, .4505, 58, .4455, -12, .4405, -62, .4695, -60, .4655, -45, .4345, 48, .4318, 55, .4302, 30],
  [.4668, -62, .4655, 38, .4642, -5, .463, 60, .4618, -45, .4608, 15, .4595, -72, .4582, 32, .457, 70, .4556, 5, .4545, 48, .4532, -70, .452, -30, .4508, 22, .4495, 75, .4482, -12, .447, 20, .4458, -60, .4445, 50, .4432, -82, .4422, 85, .441, -10, .472, -45, .4705, 55, .469, 20, .4675, 70, .4745, -12, .4355, -30, .4298, 15, .4335, 70]];
const moreB = [
  [.1844, -50, .1838, 25, .1832, -65, .1826, 60, .182, -35, .1816, 5, .1811, -68, .1806, 48, .18, -50, .1796, 22, .1792, -25, .1788, 40, .1784, -60, .178, -5, .1776, 65, .1772, -30, .1852, 30, .1858, -25, .1866, 15, .187, 48, .1764, -20, .1758, 32, .175, -20, .1842, 70, .1825, 20],
  [.1886, -55, .188, 35, .1875, -35, .187, 65, .1866, -15, .1862, 30, .1858, -75, .1854, 45, .185, -35, .1846, 15, .1842, -60, .1838, 55, .1834, 5, .183, -38, .1826, 60, .1822, 10, .1895, 30, .1902, 5, .1908, -30, .1898, 70, .1905, 55, .1815, -15, .1812, -55, .1805, 25, .1822, 85]];
const moreC = [
  [.2855, 30, .2815, -40, .278, 40, .274, -15, .27, 60, .266, -40, .262, 15, .258, 55, .254, -60, .25, 40, .246, -20, .242, 15, .238, -55, .2325, -30, .2225, 20, .2105, -20, .2995, 30, .3085, -30],
  [.3105, -15, .3035, -60, .296, 45, .2885, -35, .281, 60, .2735, -25, .266, 20, .2605, 50, .3055, 40, .2915, -15, .285, -70, .2495, 15, .2395, -10],
  [.3805, -25, .3725, 45, .3655, -55, .3565, 30, .3505, -65, .3455, 20, .3925, 20],
  [.3325, -35, .3255, 65, .3195, 20, .3125, -70, .3055, 50, .2985, 25, .2915, -40, .2845, 65, .2785, -65, .2695, 30, .2625, -30, .3445, -25, .327, -85]];
const moreD = [
  [.2215, -20, .219, -55, .217, 30, .2142, 55, .2115, 10, .209, -55, .2065, 75, .204, -30, .2, 20, .2255, 35, .2232, -60, .2025, -10],
  [.2105, 60, .2082, -40, .2052, 30, .2022, -70, .2005, 40, .1982, -10, .1955, 20, .193, -25, .1985, 60, .2125, 5],
  [.2232, 45, .2198, 40, .2165, -50, .2148, 45, .2128, 15, .2225, -10, .2115, -30, .2205, 70],
  [.2245, 50, .2225, -30, .22, -60, .218, 50, .2155, -25, .2135, 35, .2108, -55, .2085, 25, .2065, -20, .2268, -15, .2028, -35]];
const moreE = [
  [.1675, 15, .1645, -15, .1615, 40, .1585, -50, .1555, 25, .1525, -20, .1495, 35, .147, -45, .1695, 60, .1725, -20],
  [.1655, 10, .1625, -50, .1595, 50, .156, -10, .1525, 25, .1495, 55, .147, -15, .1445, 25, .1685, 45, .141, -20],
  [.1398, -30, .1372, 35, .1345, -60, .1328, 25, .1312, -35, .1395, 50, .1285, 20, .1445, 10],
  [.1525, -25, .1495, 50, .1465, -40, .1438, 20, .141, -25, .1385, 30, .1365, -50, .1515, 30, .1345, 25, .1555, 10]];
const moreF = [
  [.0952, 35, .0925, -25, .0905, 55, .0885, -30, .087, 25, .0945, -50, .0912, 10, .0865, -65, .0975, 20, .084, -20],
  [.0948, 30, .0925, -30, .0905, 55, .0885, 25, .0868, -40, .0955, -25, .0915, 20, .0832, 30, .0985, 20],
  [.0918, 25, .0895, -50, .0875, 35, .0855, -25, .0842, 50, .0925, -65, .0815, 60, .0965, 40],
  [.0915, 35, .0895, -35, .0875, 55, .0855, -15, .0838, 45, .0822, -65, .0905, 15, .0945, -15, .0795, 25]];
const moreG = [
  [.4505, -50, .4475, 25, .4445, 50, .4415, -45, .438, 45, .4345, -15, .431, 60, .4285, -60, .455, 30, .4525, 60],
  [.4575, 30, .4535, 55, .4495, -55, .4455, 50, .441, -45, .437, 65, .4345, -25, .46, -35, .4275, -55],
  [.4725, -35, .469, 40, .4655, -30, .462, 20, .4735, 30, .4505, 10],
  [.4655, 30, .4605, -50, .456, 50, .4515, -45, .4488, 55, .467, -35, .4625, 60, .4445, 25, .4725, -50]];
const moreH = [
  [.2005, -35, .2, -10, .1996, 30, .1992, 60, .1988, -25, .1985, 55, .201, 30, .2018, 50, .2002, 70, .1975, -30],
  [.1985, -35, .198, 30, .1975, -20, .197, 45, .1965, -65, .196, 10, .1955, 30, .1952, -25, .1975, 65, .1995, 10],
  [.2043, -25, .204, 30, .2035, 55, .203, -10, .2025, 40, .2022, -60, .2048, 50, .205, -30],
  [.2035, 45, .203, -25, .2027, 45, .2022, -35, .2018, 30, .2014, -55, .201, 60, .2005, 20, .2035, -75, .2048, 15]];
const moreI = [
  [.236, 15, .23, -25, .224, 40, .218, -60, .212, 30, .206, -30, .2, 65, .194, -20, .188, 35, .182, -55, .176, 25, .226, -70, .244, 25, .165, -20],
  [.272, -40, .265, 30, .257, 60, .25, 10, .243, -50, .236, 60, .229, -15, .222, 55, .215, -25, .208, 25, .28, 15, .2, 45, .19, 20],
  [.315, -30, .306, 30, .295, -40, .288, 30, .278, -55, .272, 30, .312, 65, .282, 60],
  [.27, -15, .262, 50, .255, -30, .248, 30, .242, -60, .236, 50, .229, -45, .224, 65, .219, 30, .233, -80, .207, -50, .21, 25]];
const moreJ = [
  [.2052, -60, .2045, 35, .2035, -25, .2025, 50, .2015, -55, .2005, 20, .1995, -30, .1985, 55, .1975, -55, .1965, 25, .195, 65, .1938, -45, .1885, 10, .208, -10],
  [.2025, 35, .2008, -45, .199, 65, .1975, 35, .196, -70, .1945, 15, .193, 60, .1915, -60, .19, 25, .1888, -30, .2045, 45],
  [.2095, -25, .207, -45, .2055, 45, .204, 30, .2025, -40, .2015, 55, .2065, 75],
  [.2078, -45, .2062, 40, .2048, -65, .2035, 40, .202, -20, .2005, 60, .199, -45, .1978, 20, .207, 60, .1965, 35, .1992, 80]];
const morePoints = { A: moreA, B: moreB, C: moreC, D: moreD, E: moreE, F: moreF, G: moreG, H: moreH, I: moreI, J: moreJ };

// where every panel sits on the page (pixels)
const layouts = [
  { id: 'A', frame: [86, 48, 401, 473], yRef: [.4, 416.7, .475, 130], ticks: [.4, .425, .45, .475], fmt: '.3f', xRange: [171, 315], labelRange: [169, 325.7], labelBase: 503, labelSize: 23, tickSize: 19, yLabel: [13, 244], letter: [35, 36.7], star: [236, 65], r: 4.9 },
  { id: 'B', frame: [80, 605.3, 404.5, 1030], yRef: [.16, 1020, .19, 705], ticks: [.16, .17, .18, .19], fmt: '.2f', xRange: [167.7, 316], labelRange: [170, 326.7], labelBase: 1059, labelSize: 23, tickSize: 19, yLabel: [13, 797], letter: [35, 583.3], star: [236.7, 623.3], r: 4.9 },
  { id: 'C', frame: [495, 50.7, 787.7, 474], yRef: [.2, 405, .5, 110], ticks: [.2, .3, .4, .5], fmt: '.1f', xRange: [535.7, 746], labelRange: [537.3, 742.7], labelBase: 498, labelSize: 20, tickSize: 17, yLabel: [447, 233], letter: [431.7, 40.7], star: [632.7, 67.7], r: 4.3 },
  { id: 'D', frame: [490.7, 602.7, 789, 1030], yRef: [.2, 897.7, .25, 731.7], ticks: [.2, .25], fmt: '.2f', xRange: [532.3, 747], labelRange: [532.3, 737.3], labelBase: 1051.7, labelSize: 20, tickSize: 16.5, yLabel: [441, 790], letter: [437, 583], star: [638, 626], r: 4.3 },
  { id: 'E', frame: [899, 50.7, 1182, 474], yRef: [.12, 443, .21, 139], ticks: [.12, .15, .18, .21], fmt: '.2f', xRange: [938.3, 1142.7], labelRange: [940, 1145], labelBase: 498, labelSize: 20, tickSize: 16.5, yLabel: [842, 236], letter: [831.7, 40.7], star: [1040, 67.7], r: 4.3 },
  { id: 'F', frame: [900, 601.7, 1185, 1026.7], yRef: [.08, 938.3, .14, 609.3], ticks: [.08, .1, .12, .14], fmt: '.2f', xRange: [940, 1144.3], labelRange: [940.7, 1145.7], labelBase: 1048, labelSize: 20, tickSize: 17, yLabel: [844, 783], letter: [844, 583], star: [1041, 626.7], r: 4.3 },
  { id: 'G', frame: [1286.3, 50.7, 1561.7, 474], yRef: [.4, 417.7, .475, 132.3], ticks: [.4, .425, .45, .475], fmt: '.3f', xRange: [1325, 1523], labelRange: [1324, 1522.7], labelBase: 496.7, labelSize: 20, tickSize: 17, yLabel: [1222, 244.7], letter: [1214, 38], star: [1422, 68], r: 4.3 },
  { id: 'H', frame: [1294.3, 598.3, 1569, 1025], yRef: [.19, 1003.3, .21, 601.7], ticks: [.19, .195, .2, .205, .21], fmt: '.3f', xRange: [1332.3, 1530.3], labelRange: [1331.7, 1530.3], labelBase: 1048, labelSize: 20, tickSize: 17, yLabel: [1228, 788], letter: [1227, 583], star: [1423, 618.7], r: 4.3 },
  { id: 'I', frame: [1655, 50.7, 1948.3, 474], yRef: [.2, 348.3, .4, 72.3], ticks: [.2, .3, .4], fmt: '.1f', xRange: [1696, 1906.7], labelRange: [1695, 1906.7], labelBase: 497, labelSize: 20, tickSize: 17, yLabel: [1607, 230], letter: [1592.7, 37], star: [1795.3, 68], r: 4.3 },
  { id: 'J', frame: [1651.7, 598.3, 1952.3, 1021.7], yRef: [.16, 992.3, .24, 604.3], ticks: [.16, .18, .2, .22, .24], fmt: '.2f', xRange: [1694, 1910], labelRange: [1695, 1899.7], labelBase: 1044, labelSize: 20, tickSize: 17, yLabel: [1599, 784], letter: [1603, 580], star: [1799, 618.7], r: 4.3 },
];

const panelContent = {
  A: { yTitle: 'AUC of 5-FU', stars: '*', cats: stat3Labels, colors: stat3Colors, title: 'CTRP', titlePos: [239, 36], boxes: [boxALow, boxAHigh], violins: [violinALow, violinAHigh], points: [pointsALow, pointsAHigh] },
  B: { yTitle: 'AUC of 5-FU', stars: '***', cats: stat3Labels, colors: stat3Colors, title: 'PRISM', titlePos: [247, 591.7], boxes: [boxBLow, boxBHigh], violins: [violinBLow, violinBHigh], points: [pointsBLow, pointsBHigh] },
  C: { yTitle: 'AUC of methotrexate', stars: '***', cats: clusterLabels, colors: clusterColors, boxes: [boxC1, boxC2, boxC3, boxC4], violins: [violinC1, violinC2, violinC3, violinC4], points: [pointsC1, pointsC2, pointsC3, pointsC4] },
  D: { yTitle: 'AUC of warfarin', stars: '***', cats: clusterLabels, colors: clusterColors, boxes: [boxD1, boxD2, boxD3, boxD4], violins: [violinD1, violinD2, violinD3, violinD4], points: [pointsD1, pointsD2, pointsD3, pointsD4] },
  E: { yTitle: 'AUC of dasatinib', stars: '***', cats: clusterLabels, colors: clusterColors, boxes: [boxE1, boxE2, boxE3, boxE4], violins: [violinE1, violinE2, violinE3, violinE4], points: [pointsE1, pointsE2, pointsE3, pointsE4] },
  F: { yTitle: 'AUC of LY2606368', stars: '***', cats: clusterLabels, colors: clusterColors, boxes: [boxF1, boxF2, boxF3, boxF4], violins: [violinF1, violinF2, violinF3, violinF4], points: [pointsF1, pointsF2, pointsF3, pointsF4] },
  G: { yTitle: 'AUC of 5-FU', stars: '***', cats: clusterLabels, colors: clusterColors, boxes: [boxG1, boxG2, boxG3, boxG4], violins: [violinG1, violinG2, violinG3, violinG4], points: [pointsG1, pointsG2, pointsG3, pointsG4] },
  H: { yTitle: 'AUC of apatinib', stars: '***', cats: clusterLabels, colors: clusterColors, boxes: [boxH1, boxH2, boxH3, boxH4], violins: [violinH1, violinH2, violinH3, violinH4], points: [pointsH1, pointsH2, pointsH3, pointsH4] },
  I: { yTitle: 'AUC of paclitaxel', stars: '***', cats: clusterLabels, colors: clusterColors, boxes: [boxI1, boxI2, boxI3, boxI4], violins: [violinI1, violinI2, violinI3, violinI4], points: [pointsI1, pointsI2, pointsI3, pointsI4] },
  J: { yTitle: 'AUC of cisplatin', stars: '***', cats: clusterLabels, colors: clusterColors, boxes: [boxJ1, boxJ2, boxJ3, boxJ4], violins: [violinJ1, violinJ2, violinJ3, violinJ4], points: [pointsJ1, pointsJ2, pointsJ3, pointsJ4] },
};

const FONT = '"Liberation Sans", Arial, sans-serif';
const TITLE_RED = '#7B1A1D';
const INK = '#231815';

const toPairs = (flat: number[]) => d3.range(0, flat.length, 2).map(i => [flat[i], flat[i + 1]]);

function drawPanel(root: any, layout: any) {
  const content = panelContent[layout.id];
  const [left, top, right, bottom] = layout.frame;
  const g = root.append('g');

  const y = d3.scaleLinear().domain([layout.yRef[0], layout.yRef[2]]).range([layout.yRef[1], layout.yRef[3]]);
  const x = d3.scalePoint().domain(content.cats).range(layout.xRange);
  const xLabel = d3.scalePoint().domain(content.cats).range(layout.labelRange);
  const step = layout.xRange[1] - layout.xRange[0];
  const catStep = step / (content.cats.length - 1);
  const halfWidth = d3.scaleLinear().domain([0, 100]).range([0, catStep]);
  const jitter = d3.scaleLinear().domain([-100, 100]).range([-catStep * .23, catStep * .23]);
  const boxHalf = catStep * .38;

  // Panel background
  g.append('rect').attr('x', left).attr('y', top).attr('width', right - left).attr('height', bottom - top)
    .attr('fill', '#F4F7F6');

  // Dashed grid
  g.selectAll('.hgrid').data(layout.ticks).enter().append('line')
    .attr('x1', left + 3).attr('x2', right - 3).attr('y1', d => y(d)).attr('y2', d => y(d))
    .attr('stroke', '#CDD1D6').attr('stroke-width', 1.4).attr('stroke-dasharray', '7 7');
  g.selectAll('.vgrid').data(content.cats).enter().append('line')
    .attr('y1', top + 3).attr('y2', bottom - 3).attr('x1', d => x(d)).attr('x2', d => x(d))
    .attr('stroke', '#CDD1D6').attr('stroke-width', 1.4).attr('stroke-dasharray', '7 7');

  content.cats.forEach((cat, i) => {
    const cx = x(cat);
    const color = content.colors[i];
    const [low, q1, med, q3, high] = content.boxes[i];

    const area = d3.area()
      .curve(d3.curveCatmullRom.alpha(.5))
      .y(d => y(d[0]))
      .x0(d => cx - halfWidth(d[1]))
      .x1(d => cx + halfWidth(d[1]));
    g.append('path').attr('d', area(toPairs(content.violins[i])))
      .attr('fill', color).attr('fill-opacity', .45);

    const cloud = toPairs(content.points[i].concat(morePoints[layout.id][i]));
    g.append('g').selectAll('circle').data(cloud).enter().append('circle')
      .attr('cx', d => cx + jitter(d[1]))
      .attr('cy', d => y(d[0]))
      .attr('r', layout.r)
      .attr('fill', color);

    g.append('rect')
      .attr('x', cx - boxHalf).attr('width', boxHalf * 2)
      .attr('y', y(q3)).attr('height', y(q1) - y(q3))
      .attr('fill', color).attr('fill-opacity', .5)
      .attr('stroke', '#111').attr('stroke-width', 2.4);
    g.append('line').attr('x1', cx - boxHalf).attr('x2', cx + boxHalf).attr('y1', y(med)).attr('y2', y(med))
      .attr('stroke', '#111').attr('stroke-opacity', .8).attr('stroke-width', 3.2);
    [[high, q3], [q1, low]].forEach(([a, b]) => {
      g.append('line').attr('x1', cx).attr('x2', cx).attr('y1', y(a)).attr('y2', y(b))
        .attr('stroke', '#111').attr('stroke-opacity', .75).attr('stroke-width', 2.2);
    });
  });

  // Frame on top of the marks
  g.append('rect').attr('x', left).attr('y', top).attr('width', right - left).attr('height', bottom - top)
    .attr('fill', 'none').attr('stroke', '#3A3A3A').attr('stroke-width', 3.5);

  // Axes
  const yAxis = d3.axisLeft(y).tickValues(layout.ticks).tickFormat(d3.format(layout.fmt)).tickSize(4).tickPadding(2);
  const yG = g.append('g').attr('transform', `translate(${left - 1},0)`).call(yAxis);
  yG.select('.domain').remove();
  yG.selectAll('line').attr('stroke', '#333').attr('stroke-width', 1.2);
  yG.selectAll('text').attr('font-family', FONT).attr('font-size', layout.tickSize).attr('fill', '#111');

  const xAxis = d3.axisBottom(xLabel).tickSize(0).tickPadding(0);
  const xG = g.append('g').attr('transform', `translate(0,${layout.labelBase - layout.labelSize * .71})`).call(xAxis);
  xG.select('.domain').remove();
  xG.selectAll('text').attr('font-family', FONT).attr('font-size', layout.labelSize).attr('fill', '#111');

  // Labels
  g.append('text')
    .attr('transform', `translate(${layout.yLabel[0] + 8.5},${layout.yLabel[1]}) rotate(-90)`)
    .attr('text-anchor', 'middle').attr('font-family', FONT).attr('font-size', 24).attr('font-weight', 700)
    .attr('fill', TITLE_RED).text(content.yTitle);
  g.append('text').attr('x', layout.letter[0]).attr('y', layout.letter[1])
    .attr('font-family', FONT).attr('font-size', 46).attr('font-weight', 700).attr('fill', INK).text(layout.id);
  g.append('text').attr('x', layout.star[0]).attr('y', layout.star[1] + 18.5).attr('text-anchor', 'middle')
    .attr('font-family', FONT).attr('font-size', 32).attr('font-weight', 700).attr('fill', '#111').text(content.stars);
  if (content.title) {
    g.append('text').attr('x', content.titlePos[0]).attr('y', content.titlePos[1]).attr('text-anchor', 'middle')
      .attr('font-family', FONT).attr('font-size', 32).attr('font-weight', 700).attr('fill', TITLE_RED).text(content.title);
  }
}

export default function App() {
  const svgRef = useRef(null);

  useEffect(() => {
    const svg = d3.select(svgRef.current);
    svg.selectAll('*').remove();
    layouts.forEach(layout => drawPanel(svg, layout));
  }, []);

  return (
    <svg
      ref={svgRef}
      width={1960}
      height={1072}
      viewBox="0 0 1960 1072"
      style={{ position: 'absolute', left: 0, top: 0, background: '#fff' }}
    />
  );
}
